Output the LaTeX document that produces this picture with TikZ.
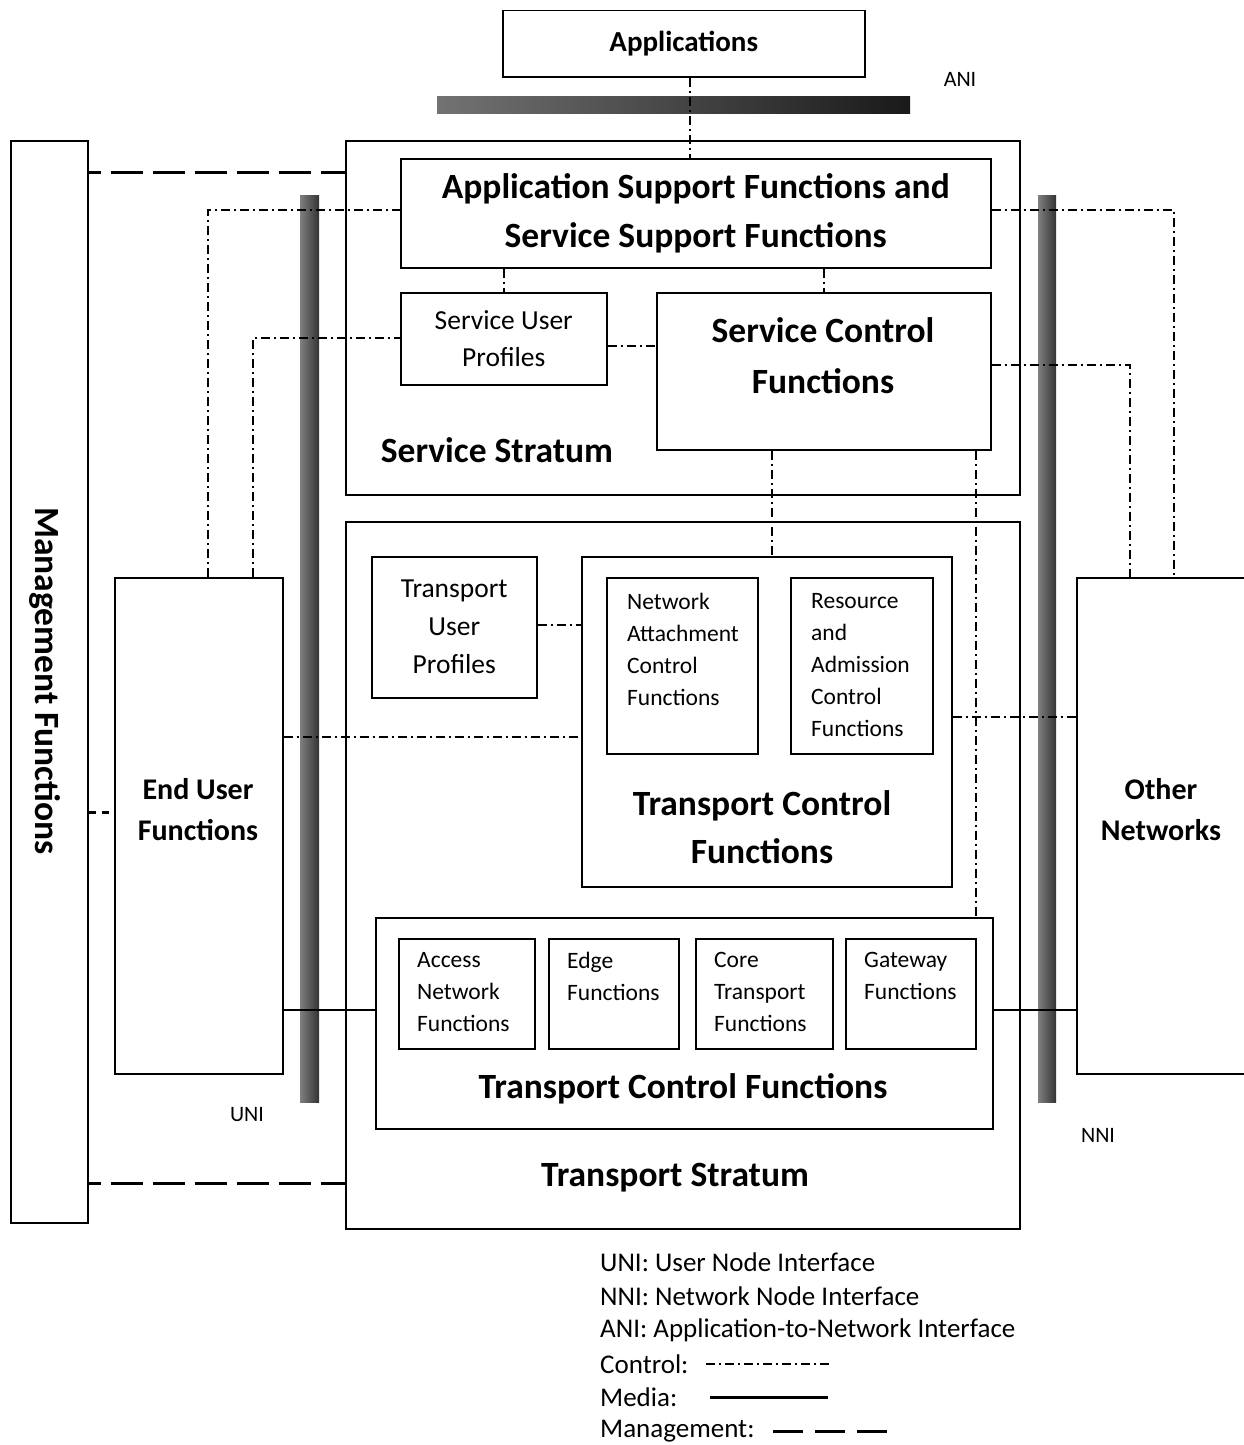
\documentclass[tikz,border=0pt]{standalone}
\usepackage{fontspec}
\setmainfont{Carlito}
\newcommand{\myfs}[2]{\fontsize{#1}{#2}\selectfont}
\begin{document}
\begin{tikzpicture}[x=1pt,y=-1pt,
  box/.style={draw, line width=1.5pt, anchor=north west, inner sep=0pt, align=center},
  bigt/.style={inner sep=0pt, align=center, font=\bfseries\myfs{35.5}{49}},
  midt/.style={inner sep=0pt, align=center, font=\bfseries\myfs{30}{41}},
  regt/.style={font=\myfs{27.5}{37}},
  smallt/.style={inner sep=0pt, align=left, anchor=north west, font=\myfs{23.5}{32}},
  labt/.style={inner sep=0pt, font=\myfs{22}{26}},
  legt/.style={inner sep=0pt, anchor=west, font=\myfs{27}{34}},
  ctrl/.style={line width=1.5pt, dash pattern=on 9pt off 4pt on 2pt off 4pt},
  media/.style={line width=2pt},
  mgmt/.style={line width=3pt, dash pattern=on 32pt off 10pt, dash phase=20pt},
]
\useasboundingbox (0,0) rectangle (1244,1445);
\clip (0,0) rectangle (1244,1445);
\fill[white] (0,0) rectangle (1244,1445);

% helper coordinates
\coordinate (v208) at (208,0);
\coordinate (v253) at (253,0);
\coordinate (v690) at (690,0);
\coordinate (v772) at (772,0);
\coordinate (v976) at (976,0);
\coordinate (v1130) at (1130,0);
\coordinate (v1174) at (1174,0);
\coordinate (h172) at (0,172);
\coordinate (h210) at (0,210);
\coordinate (h338) at (0,338);
\coordinate (h346) at (0,346);
\coordinate (h365) at (0,365);
\coordinate (h625) at (0,625);
\coordinate (h717) at (0,717);
\coordinate (h737) at (0,737);
\coordinate (h812) at (0,812);
\coordinate (h1010) at (0,1010);
\coordinate (h1183) at (0,1183);

% interface bars
\shade[left color=black!55, right color=black!90] (437,96) rectangle (910,113);
\shade[left color=black!50, right color=black!80] (300,195) rectangle (319,1102);
\shade[left color=black!50, right color=black!80] (1038,195) rectangle (1056,1102);

% boxes
\node[box, minimum width=362pt, minimum height=66pt, font=\bfseries\myfs{29}{35}] (app) at (502,10) {Applications};
\node[box, minimum width=674pt, minimum height=354pt] (ss) at (345,140) {};
\node[box, minimum width=590pt, minimum height=109pt, font=\bfseries\myfs{35.5}{49}] (asf) at (400,158) {Application Support Functions and\\Service Support Functions};
\node[box, minimum width=206pt, minimum height=92pt, regt] (sup) at (400,292) {Service User\\Profiles};
\node[box, minimum width=334pt, minimum height=157pt] (scf) at (656,292) {};
\node[box, minimum width=674pt, minimum height=707pt] (ts) at (345,521) {};
\node[box, minimum width=165pt, minimum height=141pt, regt, font=\myfs{27.5}{38}] (tup) at (371,556) {Transport\\User\\Profiles};
\node[box, minimum width=370pt, minimum height=330pt] (tcf) at (581,556) {};
\node[box, minimum width=151pt, minimum height=176pt] (nacf) at (606,577) {};
\node[box, minimum width=142pt, minimum height=176pt] (racf) at (790,577) {};
\node[box, minimum width=617pt, minimum height=211pt] (tf) at (375,917) {};
\node[box, minimum width=136pt, minimum height=110pt] (anf) at (398,938) {};
\node[box, minimum width=130pt, minimum height=110pt] (edge) at (548,938) {};
\node[box, minimum width=137pt, minimum height=110pt] (core) at (695,938) {};
\node[box, minimum width=130pt, minimum height=110pt] (gw) at (845,938) {};
\node[box, minimum width=77pt, minimum height=1082pt] (mf) at (10,140) {};
\node[box, minimum width=168pt, minimum height=496pt] (eu) at (114,577) {};
\node[box, minimum width=172pt, minimum height=496pt] (on) at (1076,577) {};

% texts
\node[bigt, font=\bfseries\myfs{35.5}{51}] (scft) at (823,356) {Service Control\\Functions};
\node[bigt] (sst) at (497,450) {Service Stratum};
\node[bigt, font=\bfseries\myfs{35.5}{48}] (tcft) at (762,827) {Transport Control\\Functions};
\node[bigt] (tft) at (683,1089) {Transport Control Functions};
\node[bigt] (tst) at (675,1178) {Transport Stratum};
\node[bigt, rotate=-90] (mft) at (45,681) {Management Functions};
\node[midt] (eut) at (198,810) {End User\\Functions};
\node[midt] (ont) at (1161,810) {Other\\Networks};
\node[smallt] (nacft) at (627,593) {Network\\Attachment\\Control\\Functions};
\node[smallt] (racft) at (811,593) {Resource\\and\\Admission\\Control\\Functions};
\node[smallt] (anft) at (417,952) {Access\\Network\\Functions};
\node[smallt] (edget) at (567,952) {Edge\\Functions};
\node[smallt] (coret) at (714,952) {Core\\Transport\\Functions};
\node[smallt] (gwt) at (864,952) {Gateway\\Functions};
\node[labt] (ani) at (960,79) {ANI};
\node[labt] (uni) at (247,1115) {UNI};
\node[labt] (nni) at (1098,1135) {NNI};

% control connectors
\draw[ctrl] (app.south -| v690) -- (asf.north -| v690);
\draw[ctrl] (asf.south -| sup.north) -- (sup.north);
\draw[ctrl] (asf.south -| scf.north) -- (scf.north);
\draw[ctrl] (sup.east |- h346) -- (scf.west |- h346);
\draw[ctrl] (eu.north -| v208) |- (asf.west |- h210);
\draw[ctrl] (asf.east |- h210) -| (on.north -| v1174);
\draw[ctrl] (eu.north -| v253) |- (sup.west |- h338);
\draw[ctrl] (scf.east |- h365) -| (on.north -| v1130);
\draw[ctrl] (scf.south -| v772) -- (tcf.north -| v772);
\draw[ctrl] (scf.south -| v976) -- (tf.north -| v976);
\draw[ctrl] (tup.east |- h625) -- (tcf.west |- h625);
\draw[ctrl] (eu.east |- h737) -- (tcf.west |- h737);
\draw[ctrl] (tcf.east |- h717) -- (on.west |- h717);

% media connectors
\draw[media] (eu.east |- h1010) -- (tf.west |- h1010);
\draw[media] (tf.east |- h1010) -- (on.west |- h1010);

% management connectors
\draw[mgmt] (mf.east |- h172) -- (ss.west |- h172);
\draw[mgmt, dash pattern=on 7pt off 6pt, dash phase=0pt] (mf.east |- h812) -- (eu.west |- h812);
\draw[mgmt] (mf.east |- h1183) -- (ts.west |- h1183);

% legend
\node[legt] (l1) at (600,1262) {UNI: User Node Interface};
\node[legt] (l2) at (600,1296) {NNI: Network Node Interface};
\node[legt] (l3) at (600,1330) {ANI: Application-to-Network Interface};
\node[legt] (l4) at (600,1364) {Control:};
\node[legt] (l5) at (600,1397) {Media:};
\node[legt] (l6) at (600,1431) {Management:};
\coordinate (lc1) at (706,1364);
\coordinate (lc2) at (830,1364);
\coordinate (lm1) at (710,1397);
\coordinate (lm2) at (828,1397);
\coordinate (lg1) at (773,1431);
\coordinate (lg2) at (888,1431);
\draw[ctrl] (lc1) -- (lc2);
\draw[media, line width=3pt] (lm1) -- (lm2);
\draw[line width=3pt, dash pattern=on 30pt off 12pt] (lg1) -- (lg2);
\end{tikzpicture}
\end{document}
